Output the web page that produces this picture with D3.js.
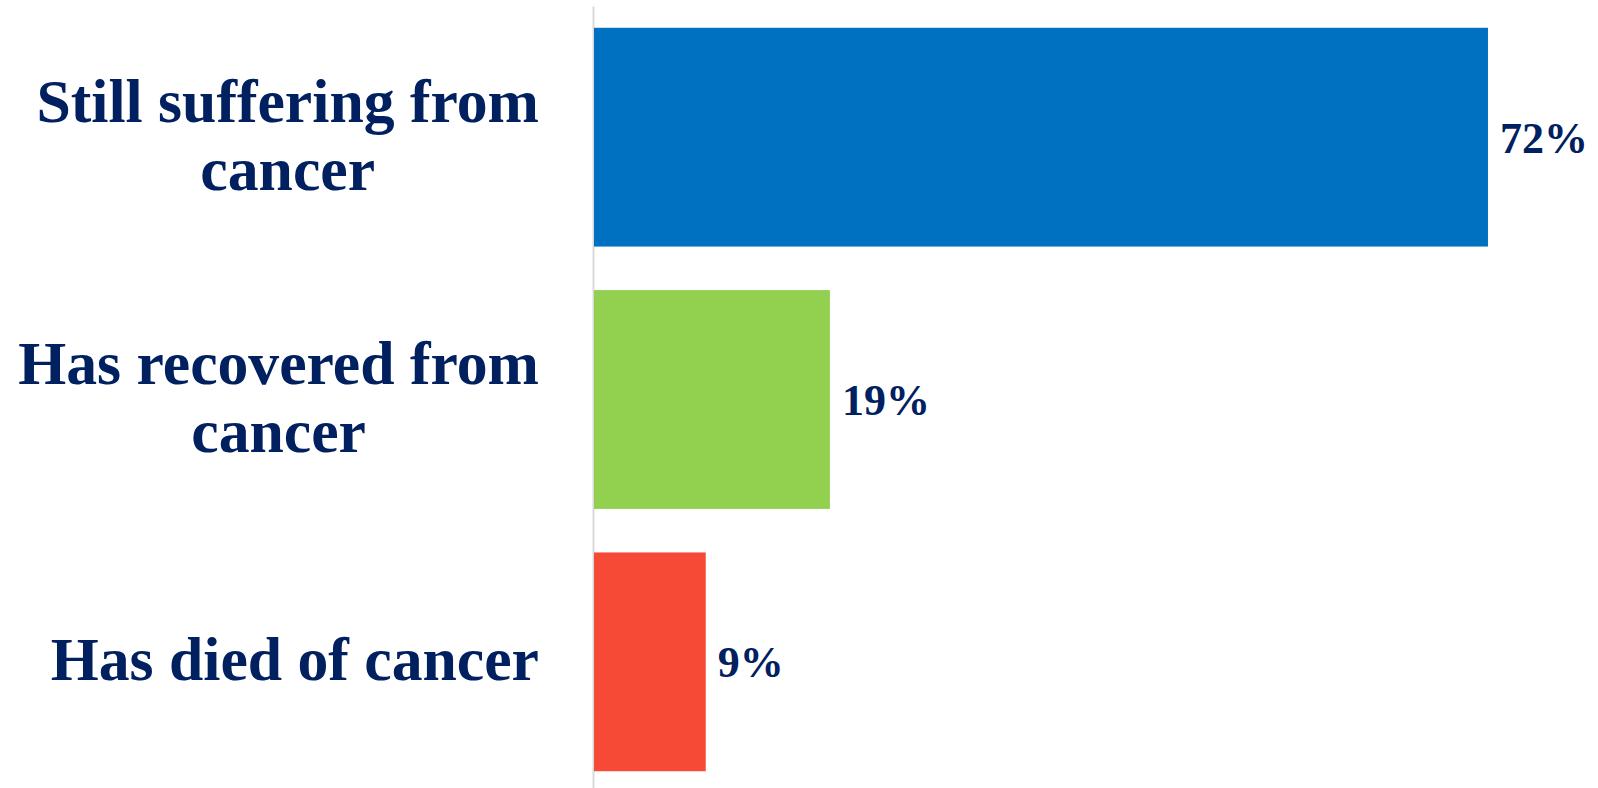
<!DOCTYPE html>
<html>
<head>
<meta charset="utf-8">
<script src="https://cdn.jsdelivr.net/npm/d3@7/dist/d3.min.js"></script>
<style>
  html, body { margin: 0; padding: 0; background: #ffffff; }
  svg { display: block; }
  text { font-family: "Liberation Serif", "Times New Roman", serif; font-weight: bold; fill: #002060; }
</style>
</head>
<body>
<svg id="chart" width="1598" height="788"></svg>
<script>
// Outcome categories (each label split into its display lines)
const categories = ["Still suffering from cancer", "Has recovered from cancer", "Has died of cancer"];
const categoryLines = [["Still suffering from", "cancer"], ["Has recovered from", "cancer"], ["Has died of cancer"]];
// Share of respondents per outcome
const values = [0.72, 0.19, 0.09];
const barColors = ["#0070C0", "#92D050", "#F64A36"];

const svg = d3.select("#chart");

const x = d3.scaleLinear().domain([0, 0.8]).range([594, 1587.3]);
const y = d3.scaleBand().domain(categories).range([6, 793])
  .paddingInner(0.166).paddingOuter(0.083);

// Vertical category axis line
const yAxis = svg.append("g")
  .attr("transform", `translate(${x(0) - 1},0)`)
  .call(d3.axisLeft(y).tickSize(0).tickFormat(""));
yAxis.select(".domain").attr("stroke", "#D9D9D9").attr("stroke-width", 2);

// Bars
svg.append("g").selectAll("rect")
  .data(categories)
  .join("rect")
  .attr("x", x(0))
  .attr("y", d => y(d))
  .attr("width", (d, i) => x(values[i]) - x(0))
  .attr("height", y.bandwidth())
  .attr("fill", (d, i) => barColors[i]);

// Value labels
const fmt = d3.format(".0%");
svg.append("g").selectAll("text")
  .data(categories)
  .join("text")
  .attr("x", (d, i) => x(values[i]) + 12)
  .attr("y", d => y(d) + y.bandwidth() / 2 + 15.5)
  .attr("font-size", 44)
  .text((d, i) => fmt(values[i]));

// Category labels: block right-aligned at the axis, lines centred within the block
const labelRight = 539;
const lineHeight = 68.3;
const labelG = svg.append("g");
categories.forEach((c, i) => {
  const lines = categoryLines[i];
  const t = labelG.append("text").attr("font-size", 61.7).attr("text-anchor", "middle");
  const spans = lines.map(l => t.append("tspan").text(l));
  const widths = spans.map(s => s.node().getComputedTextLength());
  const blockW = d3.max(widths);
  const cx = labelRight - blockW / 2;
  const center = y(c) + y.bandwidth() / 2;
  const firstBase = center + 18.6 - (lines.length - 1) * lineHeight / 2;
  spans.forEach((s, k) => s.attr("x", cx).attr("y", firstBase + k * lineHeight));
});
</script>
</body>
</html>
